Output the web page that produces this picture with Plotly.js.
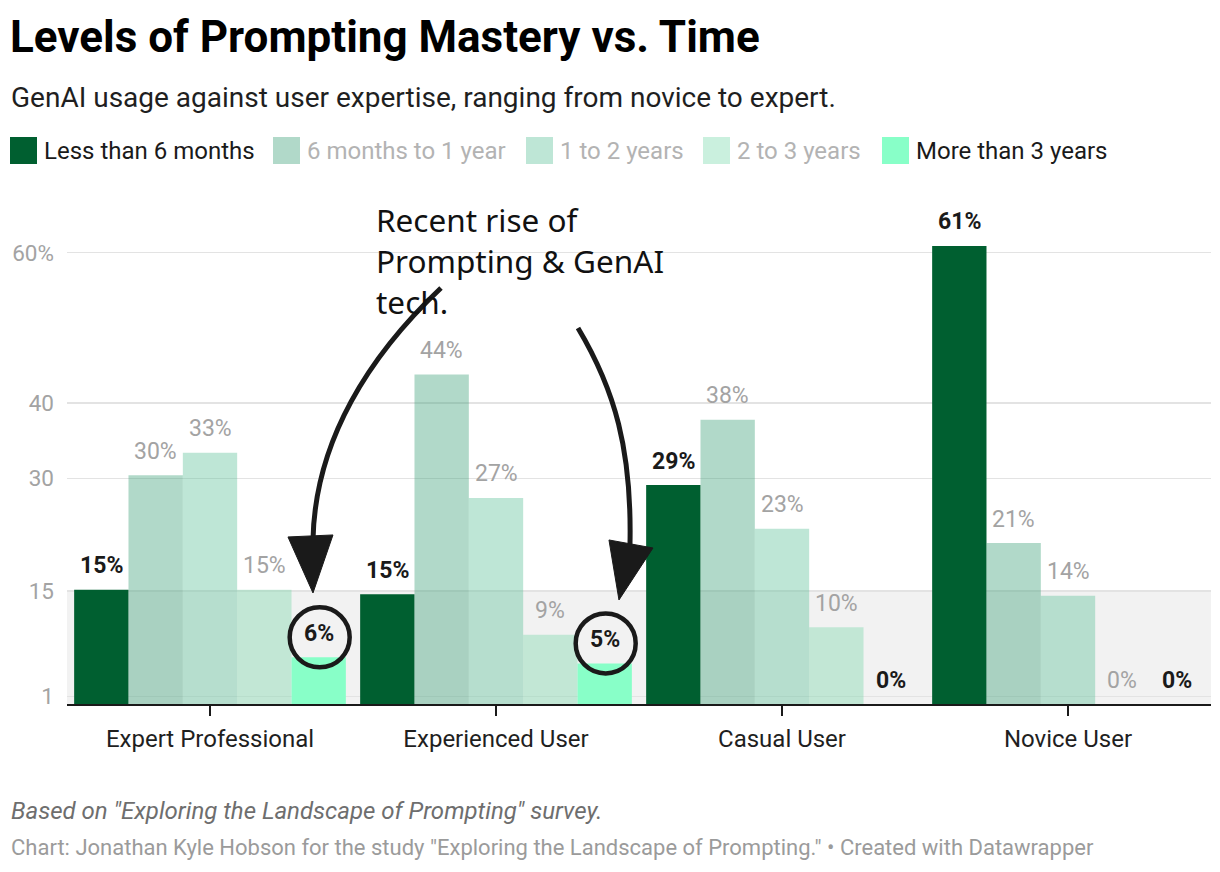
<!DOCTYPE html>
<html>
<head>
<meta charset="utf-8">
<script src="https://cdn.plot.ly/plotly-3.0.1.min.js"></script>
<style>
html,body{margin:0;padding:0;background:#fff;}
#chart{width:1220px;height:872px;}
</style>
</head>
<body>
<div id="chart"></div>
<script>
// ---------------- DATA ----------------
const categories = ['Expert Professional', 'Experienced User', 'Casual User', 'Novice User'];
const seriesNames = ['Less than 6 months', '6 months to 1 year', '1 to 2 years', '2 to 3 years', 'More than 3 years'];
const lessThan6Months = [15.2, 14.6, 29.1, 60.9];
const sixMonthsTo1Year = [30.4, 43.8, 37.8, 21.4];
const oneTo2Years = [33.4, 27.4, 23.3, 14.4];
const twoTo3Years = [15.2, 9.2, 10.2, 0];
const moreThan3Years = [6.2, 5.4, 0, 0];
const yTickVals = [1, 15, 30, 40, 60];
const yTickText = ['1', '15', '30', '40', '60%'];
const annotationText = 'Recent rise of<br>Prompting & GenAI<br>tech.';
const titleText = 'Levels of Prompting Mastery vs. Time';
const subtitleText = 'GenAI usage against user expertise, ranging from novice to expert.';
const notesText = 'Based on "Exploring the Landscape of Prompting" survey.';
const creditText = 'Chart: Jonathan Kyle Hobson for the study "Exploring the Landscape of Prompting." • Created with Datawrapper';

// ---------------- STYLE ----------------
const seriesValues = [lessThan6Months, sixMonthsTo1Year, oneTo2Years, twoTo3Years, moreThan3Years];
const barColors = ['#005f30', '#3d9f78', '#5cc098', '#7ad6ab', '#88ffc8'];
const barOpacity = [1, 0.4, 0.4, 0.4, 1];
const swatchColors = ['#005f30', '#b1d9c9', '#bee6d6', '#caf0de', '#88ffc8'];
const legendTextColors = ['#1a1a1a', '#b3b3b3', '#b3b3b3', '#b3b3b3', '#1a1a1a'];
const labelBold = [true, false, false, false, true];
const legendSwatchLeft = [10, 273, 526, 703, 882];

const W = 1220, H = 872;
const ML = 67, MR = 9, MT = 200, MB = 168;
const PW = W - ML - MR, PH = H - MT - MB;
const px = x => (x - ML) / PW;
const py = y => (MT + PH - y) / PH;

const bargap = 0.05;
const bw = (1 - bargap) / seriesValues.length;

const FONT = 'Roboto, "Noto Sans", sans-serif';

const traces = seriesValues.map((vals, j) => ({
  type: 'bar',
  name: seriesNames[j],
  x: categories,
  y: vals,
  marker: {color: barColors[j], opacity: barOpacity[j], line: {width: 0}},
  hoverinfo: 'skip',
  showlegend: false
}));

const annotations = [];
// bar value labels
seriesValues.forEach((vals, j) => {
  vals.forEach((v, i) => {
    const t = Math.round(v) + '%';
    annotations.push({
      xref: 'x', yref: 'y',
      x: i + (j - (seriesValues.length - 1) / 2) * bw,
      y: v,
      yshift: 24,
      yanchor: 'middle', xanchor: 'center',
      showarrow: false,
      text: labelBold[j] ? '<b>' + t + '</b>' : t,
      font: {family: FONT, size: 23, color: labelBold[j] ? '#1a1a1a' : '#a3a3a3'}
    });
  });
});

// subtitle
annotations.push({
  xref: 'paper', yref: 'paper', x: px(9), y: py(97), xanchor: 'left', yanchor: 'middle',
  showarrow: false, text: subtitleText,
  font: {family: FONT, size: 28, color: '#1f1f1f'}
});
// legend
const shapes = [];
seriesNames.forEach((n, j) => {
  const l = legendSwatchLeft[j];
  shapes.push({
    type: 'rect', xref: 'paper', yref: 'paper', layer: 'above',
    x0: px(l), x1: px(l + 27), y0: py(164), y1: py(137),
    fillcolor: swatchColors[j], line: {width: 0}
  });
  annotations.push({
    xref: 'paper', yref: 'paper', x: px(l + 32), y: py(151), xanchor: 'left', yanchor: 'middle',
    showarrow: false, text: n,
    font: {family: FONT, size: 24, color: legendTextColors[j]}
  });
});
// callout text
annotations.push({
  xref: 'paper', yref: 'paper', x: px(374), y: py(196), xanchor: 'left', yanchor: 'top',
  showarrow: false, align: 'left', text: annotationText,
  font: {family: '"Noto Sans", sans-serif', size: 31.5, color: '#111111'}
});
// footer
annotations.push({
  xref: 'paper', yref: 'paper', x: px(9), y: py(811), xanchor: 'left', yanchor: 'middle',
  showarrow: false, text: '<i>' + notesText + '</i>',
  font: {family: FONT, size: 24, color: '#6e6e6e'}
});
annotations.push({
  xref: 'paper', yref: 'paper', x: px(9), y: py(848), xanchor: 'left', yanchor: 'middle',
  showarrow: false, text: creditText,
  font: {family: FONT, size: 22, color: '#9b9b9b'}
});

// shaded band 0-15
shapes.push({
  type: 'rect', xref: 'x domain', yref: 'y', layer: 'below',
  x0: 0, x1: 1, y0: 0, y1: 15,
  fillcolor: '#f2f2f2', line: {width: 0}
});

// circles and arrows anchored on the "More than 3 years" bars
const hl = [0, 1];
const arrowPaths = [
  {line: 'M122.3,369.4 C51.3,302.4 -3.7,217.4 -5.7,117.4', head: 'M-30.7,120.4 L14.3,122.4 L-5.7,64.4 Z'},
  {line: 'M-26.7,335.4 C10.3,273.4 27.3,213.4 25.3,118.4', head: 'M4.3,123.4 L48.3,115.4 L14.3,63.4 Z'}
];
hl.forEach((i, k) => {
  const j = 4;
  const xa = i + (j - 2) * bw;
  const ya = seriesValues[j][i];
  shapes.push({
    type: 'circle', xref: 'x', yref: 'y', layer: 'above',
    xsizemode: 'pixel', ysizemode: 'pixel', xanchor: xa, yanchor: ya,
    x0: -29, x1: 31, y0: -10, y1: 50,
    line: {color: '#1a1a1a', width: 4.5}, fillcolor: 'rgba(0,0,0,0)'
  });
  shapes.push({
    type: 'path', xref: 'x', yref: 'y', layer: 'above',
    xsizemode: 'pixel', ysizemode: 'pixel', xanchor: xa, yanchor: ya,
    path: arrowPaths[k].line,
    line: {color: '#1a1a1a', width: 5}, fillcolor: 'rgba(0,0,0,0)'
  });
  shapes.push({
    type: 'path', xref: 'x', yref: 'y', layer: 'above',
    xsizemode: 'pixel', ysizemode: 'pixel', xanchor: xa, yanchor: ya,
    path: arrowPaths[k].head,
    line: {color: '#1a1a1a', width: 1}, fillcolor: '#1a1a1a'
  });
});

const layout = {
  width: W, height: H,
  margin: {l: ML, r: MR, t: MT, b: MB, pad: 0},
  paper_bgcolor: '#ffffff', plot_bgcolor: 'rgba(0,0,0,0)',
  barmode: 'group', bargap: bargap, bargroupgap: 0,
  title: {
    text: titleText, xref: 'container', yref: 'container',
    x: 10 / W, xanchor: 'left', y: 1 - 37 / H, yanchor: 'middle',
    font: {family: FONT, size: 44, weight: 700, color: '#000000'}
  },
  xaxis: {
    type: 'category', showgrid: false, showline: true, linecolor: '#1a1a1a', linewidth: 2,
    ticks: 'outside', ticklen: 10, tickwidth: 2, tickcolor: '#1a1a1a',
    tickfont: {family: FONT, size: 24, color: '#1f1f1f'}, ticklabelstandoff: 2,
    fixedrange: true
  },
  yaxis: {
    range: [0, 67], tickvals: yTickVals, ticktext: yTickText,
    showgrid: true, gridcolor: '#e3e3e3', gridwidth: 1.6, zeroline: false, showline: false,
    ticks: '', ticklabelstandoff: 12,
    tickfont: {family: FONT, size: 22.5, color: '#a3a3a3'}, fixedrange: true
  },
  showlegend: false,
  hovermode: false,
  annotations: annotations,
  shapes: shapes
};

Plotly.newPlot('chart', traces, layout, {displayModeBar: false, staticPlot: true});
</script>
</body>
</html>
